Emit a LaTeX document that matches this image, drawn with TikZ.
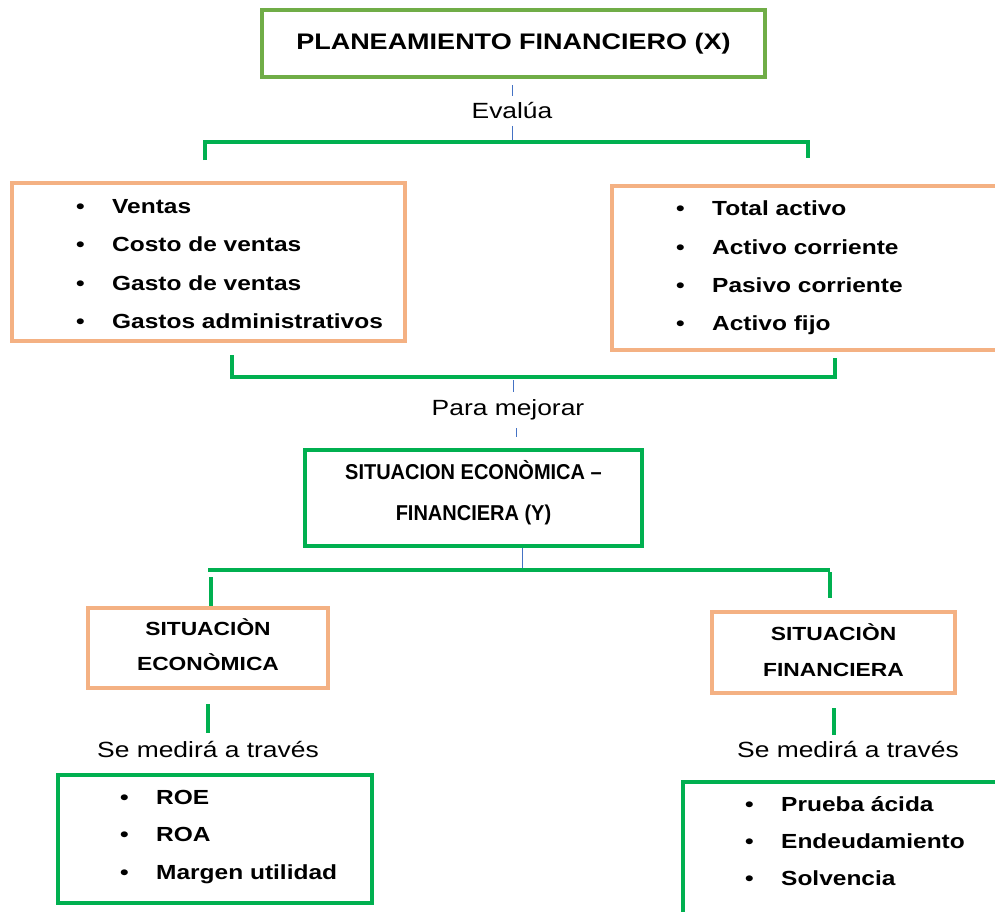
\documentclass[tikz,border=0pt]{standalone}
\usepackage{fontspec}
\setmainfont{Liberation Sans}[FakeStretch=1.2]
\newfontfamily\midfont{Liberation Sans}[FakeStretch=0.93]
\definecolor{gA}{HTML}{70AD47}
\definecolor{gB}{HTML}{00B050}
\definecolor{oA}{HTML}{F4B183}
\definecolor{bA}{HTML}{4472C4}
\newcommand\itmb{\makebox[36pt][l]{•}}
\begin{document}
\begin{tikzpicture}[x=1pt,y=-1pt,
  gline/.style={draw=gB,line width=4pt},
  bline/.style={draw=bA,line width=1pt},
  gboxA/.style={draw=gA,line width=4pt,inner sep=0pt},
  gboxB/.style={draw=gB,line width=4pt,inner sep=0pt},
  obox/.style={draw=oA,line width=4pt,inner sep=0pt},
  ttl/.style={font=\bfseries\fontsize{22.5}{26}\selectfont},
  midt/.style={font=\midfont\bfseries\fontsize{21.5}{41}\selectfont,align=center,inner sep=0pt},
  sbx/.style={font=\bfseries\fontsize{19}{35.5}\selectfont,align=center,inner sep=0pt},
  lbl/.style={font=\fontsize{22}{26}\selectfont,inner sep=4.5pt},
  itm/.style={font=\bfseries\fontsize{20.4}{38.3}\selectfont,align=left,inner sep=0pt,anchor=west},
  itmc/.style={font=\bfseries\fontsize{20.4}{37.2}\selectfont,align=left,inner sep=0pt,anchor=west}]
\useasboundingbox (0,0) rectangle (995,911);
\fill[white] (0,0) rectangle (995,911);
\clip (0,0) rectangle (995,911);

% top
\node[gboxA,ttl,minimum width=503,minimum height=67] (plan) at (513.5,43.5) {PLANEAMIENTO FINANCIERO (X)};
\node[lbl] (ev) at (512,111) {Evalúa};
\draw[bline] ([yshift=-6pt]plan.south -| ev.north) -- ([yshift=2pt]ev.north);
\coordinate (k1) at (512,142);
\coordinate (k1l) at (205,160);
\coordinate (k1r) at (808,158);
\draw[bline] ([yshift=-2pt]ev.south) -- (k1);
\draw[gline] (k1l) -- (k1l |- k1) -- (k1r |- k1) -- (k1r);

% lists
\node[obox,minimum width=393,minimum height=158] (box1) at (208.5,262) {};
\node[itm] (lst1) at (76,264) {\itmb Ventas\\ \itmb Costo de ventas\\ \itmb Gasto de ventas\\ \itmb Gastos administrativos};
\node[obox,minimum width=393,minimum height=164] (box2) at (808.5,268) {};
\node[itm] (lst2) at (676,268) {\itmb Total activo\\ \itmb Activo corriente\\ \itmb Pasivo corriente\\ \itmb Activo fijo};

% bracket 2
\coordinate (k2) at (513,377);
\coordinate (k2l) at (232,355);
\coordinate (k2r) at (835,358);
\draw[gline] (k2l) -- (k2l |- k2) -- (k2r |- k2) -- (k2r);
\node[lbl] (pm) at (508,410) {Para mejorar};
\coordinate (k2a) at (513,392);
\coordinate (k2b) at (516,428);
\coordinate (k2c) at (516,437);
\draw[bline,shorten <=3pt] (k2) -- (k2a);
\draw[bline] (k2b) -- (k2c);

% middle
\node[gboxB,minimum width=337,minimum height=96] (mid) at (473.5,498) {};
\node[midt] (midtxt) at (473.5,493) {SITUACION ECONÒMICA –\\FINANCIERA (Y)};
\coordinate (k3) at (522,570);
\draw[bline] (mid.south -| k3) -- (k3);
\coordinate (k3l) at (208,570);
\coordinate (k3r) at (830,570);
\draw[gline] (k3l) -- (k3r);

% situacion boxes
\node[obox,minimum width=240,minimum height=80] (se) at (208,648) {};
\node[sbx] (setxt) at (208,644.5) {SITUACIÒN\\ECONÒMICA};
\node[obox,minimum width=243,minimum height=81] (sf) at (833.5,652.5) {};
\node[sbx] (sftxt) at (833.5,650) {SITUACIÒN\\FINANCIERA};
\coordinate (t1) at (211,577);
\draw[gline] (t1) -- (se.north -| t1);
\coordinate (t2) at (830,572);
\draw[gline,shorten >=12pt] (t2) -- (sf.north -| t2);

\node[lbl] (mw1) at (208,749) {Se medirá a través};
\node[lbl] (mw2) at (848,749) {Se medirá a través};
\coordinate (u1) at (208,733);
\coordinate (u2) at (834,735);
\draw[gline,shorten <=14pt] (se.south) -- (u1);
\draw[gline,shorten <=13pt] (sf.south -| u2) -- (u2);

% bottom lists
\node[gboxB,minimum width=314,minimum height=128] (bx1) at (215,839) {};
\node[itmc] (lst3) at (120,837) {\itmb ROE\\ \itmb ROA\\ \itmb Margen utilidad};
\node[gboxB,minimum width=327,minimum height=148] (bx2) at (846.5,856) {};
\node[itmc] (lst4) at (745,841) {\itmb Prueba ácida\\ \itmb Endeudamiento\\ \itmb Solvencia};
\end{tikzpicture}
\end{document}
